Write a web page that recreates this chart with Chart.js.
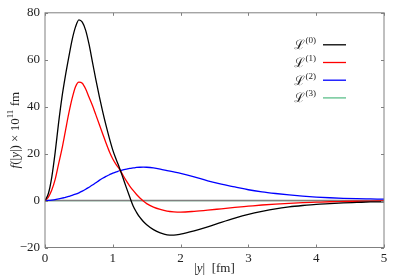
<!DOCTYPE html>
<html>
<head>
<meta charset="utf-8">
<script src="https://cdn.jsdelivr.net/npm/chart.js@4"></script>
<style>
  html, body { margin: 0; padding: 0; background: #fff; }
  #wrap { width: 399px; height: 279px; }
</style>
</head>
<body>
<div id="wrap"><canvas id="myChart"></canvas></div>
<script>
// |y| in fm
const xs = [0, 0.05, 0.1, 0.15, 0.2, 0.25, 0.3, 0.35, 0.4, 0.45, 0.5, 0.55, 0.6, 0.65, 0.7, 0.75, 0.8, 0.85, 0.9, 0.95,
  1.0, 1.05, 1.1, 1.15, 1.2, 1.25, 1.3, 1.35, 1.4, 1.45, 1.5,
  1.6, 1.7, 1.8, 1.9, 2.0,
  2.2, 2.4, 2.6, 2.8, 3.0, 3.2, 3.4, 3.6, 3.8, 4.0, 4.2, 4.4, 4.6, 4.8, 5.0];

const L0 = [0, 3, 10, 20.5, 33, 44, 53, 61, 68.5, 74, 77, 76, 72.5, 66.5, 59, 51.5, 44.5, 38, 32, 26.5,
  21.5, 17.5, 13.8, 9.7, 5.5, 1.5, -2.3, -5, -7.2, -8.9, -10.3,
  -12.4, -13.8, -14.6, -14.7, -14.3,
  -12.9, -11.2, -9.3, -7.5, -5.9, -4.6, -3.5, -2.7, -2.1, -1.6, -1.3, -1.0, -0.8, -0.6, -0.5];
const L1 = [0, 1.5, 4.5, 9, 15.5, 22, 29.5, 37, 43.5, 48.5, 50.5, 50, 47.5, 44, 40.5, 36.5, 32.5, 28.5, 24.5, 20.8,
  17.7, 15.3, 13.3, 10.8, 8.4, 6.2, 4.3, 2.6, 1.1, -0.2, -1.3,
  -2.8, -3.8, -4.5, -4.8, -4.9,
  -4.6, -4.1, -3.5, -2.9, -2.4, -1.9, -1.5, -1.2, -0.9, -0.7, -0.5, -0.4, -0.3, -0.2, -0.15];
const L2 = [0, 0.05, 0.2, 0.4, 0.7, 1.0, 1.4, 1.8, 2.2, 2.7, 3.3, 4.0, 4.8, 5.7, 6.6, 7.6, 8.6, 9.5, 10.3, 11.0,
  11.7, 12.2, 12.7, 13.1, 13.4, 13.7, 13.9, 14.1, 14.2, 14.25, 14.2,
  13.9, 13.4, 12.8, 12.2, 11.6,
  10.1, 8.4, 7.0, 5.8, 4.6, 3.7, 3.0, 2.4, 1.9, 1.5, 1.2, 0.95, 0.8, 0.7, 0.6];
const L3 = xs.map(() => 0);

const seriesSup = ['(0)', '(1)', '(2)', '(3)'];
const colors = ['#000000', '#ff0000', '#0000ff', '#5cbf8a'];

const xTicks = [0, 1, 2, 3, 4, 5];
const yTicks = [-20, 0, 20, 40, 60, 80];

const serif = '"Liberation Serif", "DejaVu Serif", serif';
const frameColor = '#808080';
const textColor = '#222';

function pts(ys) {
  return xs.map((x, i) => ({ x: x, y: ys[i] }));
}

const data = {
  datasets: [L0, L1, L2, L3].map((ys, i) => ({
    label: 'ℒ' + seriesSup[i],
    sup: seriesSup[i],
    data: pts(ys),
    borderColor: colors[i],
    borderWidth: 1.3,
    pointRadius: 0,
    fill: false,
    cubicInterpolationMode: 'monotone'
  }))
};

// draw text made of pieces: [text, italic, superscript]
function richWidth(ctx, parts, size) {
  let w = 0;
  parts.forEach(p => {
    ctx.font = (p[1] ? 'italic ' : '') + (p[2] ? size * 0.7 : size) + 'px ' + serif;
    w += ctx.measureText(p[0]).width;
  });
  return w;
}
function richText(ctx, parts, x, y, size) {
  let cx = x;
  parts.forEach(p => {
    ctx.font = (p[1] ? 'italic ' : '') + (p[2] ? size * 0.7 : size) + 'px ' + serif;
    ctx.fillText(p[0], cx, p[2] ? y - size * 0.38 : y);
    cx += ctx.measureText(p[0]).width;
  });
}

const yTitle = [['f', true], ['(|', false], ['y', true], ['|) × 10', false], ['11', false, true], [' fm', false]];
const xTitle = [['|', false], ['y', true], ['|  [fm]', false]];

const framePlugin = {
  id: 'frame',
  // zero line above L3, under the other curves
  afterDatasetDraw(chart, args) {
    if (args.index !== 3) return;
    const { ctx, chartArea: a, scales } = chart;
    const y0 = scales.y.getPixelForValue(0);
    ctx.save();
    ctx.strokeStyle = frameColor;
    ctx.lineWidth = 1.6;
    ctx.beginPath();
    ctx.moveTo(a.left, y0);
    ctx.lineTo(a.right, y0);
    ctx.stroke();
    ctx.restore();
  },
  afterDraw(chart) {
    const { ctx, chartArea: a, scales } = chart;
    ctx.save();
    ctx.strokeStyle = frameColor;
    ctx.lineWidth = 1;
    ctx.strokeRect(a.left, a.top, a.right - a.left, a.bottom - a.top);
    const t = 3;
    ctx.beginPath();
    xTicks.forEach(v => {
      const px = Math.round(scales.x.getPixelForValue(v)) + 0.5;
      ctx.moveTo(px, a.bottom); ctx.lineTo(px, a.bottom - t);
      ctx.moveTo(px, a.top); ctx.lineTo(px, a.top + t);
    });
    yTicks.forEach(v => {
      const py = Math.round(scales.y.getPixelForValue(v)) + 0.5;
      ctx.moveTo(a.left, py); ctx.lineTo(a.left + t, py);
      ctx.moveTo(a.right, py); ctx.lineTo(a.right - t, py);
    });
    ctx.stroke();

    ctx.fillStyle = textColor;
    ctx.textBaseline = 'middle';
    ctx.textAlign = 'left';

    // axis titles
    const xc = (a.left + a.right) / 2;
    richText(ctx, xTitle, xc - richWidth(ctx, xTitle, 13) / 2, a.bottom + 21, 13);
    ctx.save();
    ctx.translate(16, (a.top + a.bottom) / 2);
    ctx.rotate(-Math.PI / 2);
    richText(ctx, yTitle, -richWidth(ctx, yTitle, 13) / 2, 0, 13);
    ctx.restore();

    // legend: text then line sample
    chart.data.datasets.forEach((ds, i) => {
      const ry = a.top + 32 + i * 17.7;
      const parts = [['ℒ', false], [ds.sup, false, true]];
      const tx = a.right - 68;
      ctx.fillStyle = textColor;
      richText(ctx, parts, tx - richWidth(ctx, parts, 13), ry + 1, 13);
      ctx.strokeStyle = ds.borderColor;
      ctx.lineWidth = 1.3;
      ctx.beginPath();
      ctx.moveTo(tx + 7, ry);
      ctx.lineTo(tx + 30, ry);
      ctx.stroke();
    });
    ctx.restore();
  }
};

const config = {
  type: 'line',
  data,
  options: {
    responsive: true,
    maintainAspectRatio: false,
    animation: false,
    layout: { padding: { left: 0, top: 10.5, right: 15, bottom: 0 } },
    plugins: {
      legend: { display: false },
      tooltip: { enabled: false }
    },
    scales: {
      x: {
        type: 'linear',
        min: 0,
        max: 5,
        afterFit(scale) { scale.height = 31.5; },
        grid: { display: false, drawTicks: false },
        border: { display: false },
        afterBuildTicks(scale) { scale.ticks = xTicks.map(v => ({ value: v })); },
        ticks: {
          padding: 3,
          color: textColor,
          font: { family: serif, size: 13 }
        }
      },
      y: {
        min: -20,
        max: 80,
        afterFit(scale) { scale.width = 45; },
        grid: { display: false, drawTicks: false },
        border: { display: false },
        afterBuildTicks(scale) { scale.ticks = yTicks.map(v => ({ value: v })); },
        ticks: {
          padding: 5,
          color: textColor,
          font: { family: serif, size: 13 },
          callback: v => String(v).replace('-', '−')
        }
      }
    }
  },
  plugins: [framePlugin]
};

const myChart = new Chart(
  document.getElementById('myChart'),
  config
);
</script>
</body>
</html>
